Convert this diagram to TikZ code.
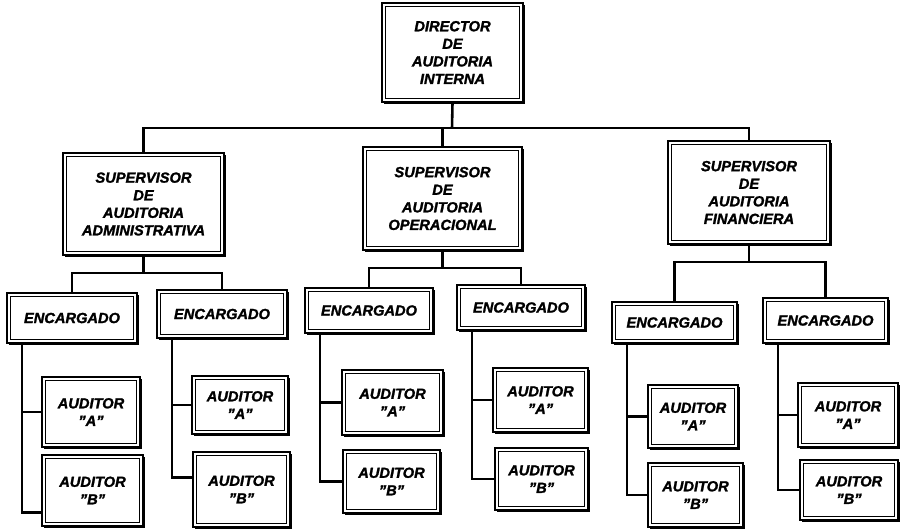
\documentclass[tikz,border=0pt]{standalone}
\usepackage{fontspec}
\setmainfont{Liberation Sans}[BoldItalicFeatures={FakeBold=1.6}]
\usetikzlibrary{calc,shadows}

\begin{document}
\begin{tikzpicture}[x=0.03cm,y=-0.03cm,line join=miter,
	every node/.style={font=\fontsize{12.5}{15}\selectfont\bfseries\itshape},
	caja/.style 2 args={draw,line width=2pt,fill=white,align=center,inner sep=0pt,
		minimum width=#1*0.03cm,minimum height=#2*0.03cm,
		drop shadow={shadow xshift=1.5pt,shadow yshift=-1.5pt,opacity=1,fill=black},
		path picture={\draw[line width=0.6pt] ([shift={(3pt,3pt)}]path picture bounding box.south west) rectangle ([shift={(-3pt,-3pt)}]path picture bounding box.north east);}},
	linea/.style={line width=2.2pt}]
	\useasboundingbox (0,0) rectangle (902,528);
	% director y supervisores
	\node[caja={141}{99}] (dir) at (452.5,52.5) {DIRECTOR\\DE\\AUDITORIA\\INTERNA};
	\node[caja={161}{102}] (supAdm) at (143.5,204) {SUPERVISOR\\DE\\AUDITORIA\\ADMINISTRATIVA};
	\node[caja={159}{103}] (supOpe) at (442.5,198.5) {SUPERVISOR\\DE\\AUDITORIA\\OPERACIONAL};
	\node[caja={162}{103}] (supFin) at (749,192.5) {SUPERVISOR\\DE\\AUDITORIA\\FINANCIERA};
	% encargados
	\node[caja={130}{50}] (enc1) at (72,318) {ENCARGADO};
	\node[caja={130}{48}] (enc2) at (222,314) {ENCARGADO};
	\node[caja={128}{45}] (enc3) at (369,310.5) {ENCARGADO};
	\node[caja={128}{45}] (enc4) at (521,307.5) {ENCARGADO};
	\node[caja={125}{41}] (enc5) at (674.5,322.5) {ENCARGADO};
	\node[caja={125}{45}] (enc6) at (825.5,320.5) {ENCARGADO};
	% auditores
	\node[caja={98}{70}] (audA1) at (91,412) {AUDITOR\\"A"};
	\node[caja={101}{71}] (audB1) at (92.5,490.5) {AUDITOR\\"B"};
	\node[caja={96}{58}] (audA2) at (240,405) {AUDITOR\\"A"};
	\node[caja={97}{75}] (audB2) at (241.5,489.5) {AUDITOR\\"B"};
	\node[caja={101}{65}] (audA3) at (392.5,402.5) {AUDITOR\\"A"};
	\node[caja={97}{63}] (audB3) at (391.5,481.5) {AUDITOR\\"B"};
	\node[caja={95}{64}] (audA4) at (540.5,400) {AUDITOR\\"A"};
	\node[caja={93}{62}] (audB4) at (541.5,479) {AUDITOR\\"B"};
	\node[caja={90}{63}] (audA5) at (693,416.5) {AUDITOR\\"A"};
	\node[caja={95}{64}] (audB5) at (695.5,495) {AUDITOR\\"B"};
	\node[caja={100}{64}] (audA6) at (848,415) {AUDITOR\\"A"};
	\node[caja={98}{60}] (audB6) at (849,490) {AUDITOR\\"B"};
	% lineas
	\coordinate (barra) at (452,128);
	\coordinate (bAdm) at (143.5,273);
	\coordinate (bOpe) at (446,268);
	\coordinate (bFin) at (750,262);
	\draw[linea] (dir.south) -- (barra);
	\draw[linea] (supAdm.north) |- (barra) -| (supFin.north);
	\draw[linea] (supOpe.north |- barra) -- (supOpe.north);
	\draw[linea] (supAdm.south) -- (bAdm);
	\draw[linea] (enc1.north) |- (bAdm) -| (enc2.north);
	\draw[linea] (supOpe.south) -- (supOpe.south |- bOpe);
	\draw[linea] (enc3.north) |- (bOpe) -| (enc4.north);
	\draw[linea] (supFin.south) -- (supFin.south |- bFin);
	\draw[linea] (enc5.north) |- (bFin) -| (enc6.north);
	\foreach \i/\d in {1/22,2/-12,3/0,4/0,5/0,6/0}{
		\draw[linea] (audA\i.west) -| ($(enc\i.south west)+(16,0)$);
		\draw[linea] ($(audB\i.west)+(0,\d)$) -| ($(enc\i.south west)+(16,0)$);
	}
\end{tikzpicture}
\end{document}
